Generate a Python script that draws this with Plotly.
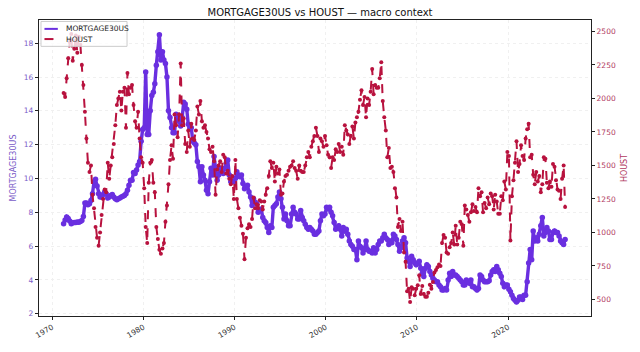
import pandas as pd
import plotly.graph_objects as go

# bimonthly observations, Apr 1971 .. Apr 2026
start_date = "1971-04-01"
end_date = "2026-04-01"

mortgage30us = [
    7.33, 7.55, 7.72, 7.63, 7.48,
    7.33, 7.38, 7.40, 7.40, 7.43, 7.42,
    7.45, 7.52, 7.75, 8.55, 8.55, 8.45,
    8.50, 8.70, 9.10, 9.80, 9.95, 9.55,
    9.10, 8.90, 8.90, 9.05, 9.20, 9.10,
    8.85, 8.90, 9.00, 9.05, 8.90, 8.80,
    8.75, 8.80, 8.85, 8.90, 8.95, 9.00,
    9.10, 9.30, 9.60, 9.90, 9.90, 10.35,
    10.30, 10.50, 10.80, 11.00, 12.20, 12.90,
    13.00, 16.30, 12.60, 12.60, 14.00, 14.90,
    15.10, 15.60, 16.70, 17.50, 18.50, 17.00,
    17.50, 17.00, 16.80, 16.00, 14.00, 13.60,
    13.00, 12.70, 12.70, 13.80, 13.40, 13.40,
    13.10, 13.60, 14.50, 14.40, 14.10, 13.20,
    13.00, 13.00, 12.20, 12.10, 12.00, 11.00,
    10.70, 9.80, 10.70, 10.20, 9.90, 9.30,
    9.10, 9.80, 10.60, 10.20, 11.30, 10.60,
    9.90, 10.20, 10.50, 10.60, 10.30, 10.60,
    10.90, 11.10, 10.20, 9.80, 9.80, 9.80,
    10.00, 10.40, 10.20, 10.10, 10.20, 9.70,
    9.40, 9.50, 9.60, 9.20, 8.90, 8.40,
    8.80, 8.60, 8.50, 8.00, 8.10, 8.20,
    7.70, 7.50, 7.40, 7.10, 6.80, 7.20,
    7.10, 8.30, 8.40, 8.50, 8.90, 9.20,
    8.80, 8.30, 7.60, 7.90, 7.50, 7.20,
    7.20, 7.90, 8.30, 8.00, 7.90, 7.60,
    7.60, 8.10, 7.70, 7.50, 7.30, 7.10,
    7.00, 7.10, 7.00, 6.90, 6.70, 6.70,
    6.80, 6.90, 7.50, 7.90, 7.80, 7.90,
    8.30, 8.20, 8.30, 8.00, 7.80, 7.40,
    7.00, 7.10, 7.20, 7.00, 6.60, 7.10,
    6.90, 7.00, 6.70, 6.30, 6.10, 6.00,
    5.80, 5.80, 5.20, 6.30, 6.00, 5.90,
    5.60, 5.80, 6.30, 5.80, 5.70, 5.70,
    5.60, 5.90, 5.60, 5.80, 6.10, 6.30,
    6.30, 6.50, 6.70, 6.50, 6.40, 6.10,
    6.30, 6.20, 6.70, 6.60, 6.40, 6.10,
    5.70, 5.90, 6.30, 6.50, 6.20, 5.30,
    5.10, 4.80, 5.40, 5.20, 5.00, 4.90,
    5.00, 5.10, 4.70, 4.40, 4.20, 4.70,
    4.90, 4.80, 4.50, 4.30, 4.10, 4.00,
    3.90, 3.90, 3.70, 3.60, 3.40, 3.40,
    3.50, 3.40, 4.00, 4.40, 4.20, 4.50,
    4.30, 4.30, 4.20, 4.10, 4.00, 3.90,
    3.70, 3.70, 4.00, 3.90, 3.80, 4.00,
    3.60, 3.60, 3.50, 3.40, 3.50, 4.30,
    4.20, 4.00, 3.90, 3.90, 3.90, 3.95,
    4.30, 4.50, 4.60, 4.50, 4.80, 4.60,
    4.40, 4.20, 3.80, 3.60, 3.70, 3.70,
    3.45, 3.30, 3.10, 2.90, 2.80, 2.70,
    2.80, 3.00, 3.00, 2.85, 3.10, 3.10,
    3.90, 5.00, 5.80, 5.20, 6.90, 6.30,
    6.50, 6.30, 6.70, 7.20, 7.70, 6.60,
    6.80, 7.10, 6.90, 6.40, 6.40, 6.80,
    6.90, 6.80, 6.80, 6.60, 6.30, 6.20,
    6.10, 6.40,
]

houst = [
    2040, 2010, 2150, 2300, 2420,
    2480, 2280, 2370, 2470, 2340, 2460,
    2400, 2250, 2100, 1900, 1700, 1520,
    1450, 1500, 1280, 1180, 1040, 960,
    900, 1000, 1130, 1250, 1320, 1300,
    1520, 1400, 1500, 1560, 1660, 1800,
    1950, 2000, 2050, 1910, 2050, 2080,
    1780, 2190, 2030, 2080, 2100, 1950,
    1830, 1780, 1900, 1700, 1560, 1520,
    1330, 1040, 920, 1370, 1520, 1540,
    1370, 1300, 1040, 950, 870, 840,
    880, 920, 1080, 1200, 1360, 1540,
    1650, 1550, 1880, 1800, 1710, 1880,
    2260, 1800, 1850, 1660, 1600, 1760,
    1640, 1810, 1700, 1690, 1760, 1940,
    1880, 1980, 1830, 1780, 1800, 1750,
    1700, 1620, 1600, 1640, 1530, 1280,
    1470, 1500, 1530, 1450, 1580, 1560,
    1440, 1460, 1400, 1360, 1420, 1250,
    1540, 1250, 1180, 1110, 1050, 990,
    800, 960, 1030, 1060, 1040, 1100,
    1260, 1180, 1210, 1180, 1240, 1230,
    1170, 1230, 1280, 1330, 1420, 1530,
    1480, 1520, 1380, 1490, 1440, 1470,
    1280, 1290, 1380, 1420, 1430, 1460,
    1490, 1500, 1530, 1480, 1460, 1400,
    1500, 1460, 1450, 1450, 1500, 1560,
    1600, 1560, 1640, 1680, 1720, 1780,
    1720, 1600, 1700, 1680, 1640, 1720,
    1650, 1580, 1560, 1480, 1560, 1540,
    1620, 1600, 1660, 1600, 1640, 1580,
    1800, 1760, 1730, 1660, 1720, 1790,
    1700, 1820, 1860, 1900, 1990, 2060,
    1950, 2010, 1860, 2000, 1950, 2050,
    2220, 2030, 2100, 2080, 2080, 2150,
    2270, 1980, 1860, 1760, 1560, 1630,
    1480, 1490, 1450, 1330, 1260, 1040,
    1100, 1010, 1080, 850, 780, 560,
    580, 480, 590, 580, 530, 580,
    605, 680, 540, 600, 540, 520,
    520, 550, 610, 580, 630, 700,
    720, 740, 760, 750, 920, 980,
    960, 850, 840, 890, 920, 1000,
    910, 1050, 910, 960, 1080, 1060,
    900, 1200, 1170, 1130, 1080, 1150,
    1210, 1160, 1190, 1150, 1330, 1270,
    1300, 1150, 1220, 1180, 1260, 1210,
    1290, 1270, 1170, 1280, 1230, 1140,
    1140, 1270, 1240, 1380, 1320, 1600,
    1570, 940, 1270, 1390, 1520, 1680,
    1450, 1510, 1650, 1570, 1540, 1700,
    1770, 1810, 1560, 1580, 1430, 1360,
    1450, 1380, 1420, 1300, 1360, 1560,
    1550, 1370, 1330, 1380, 1340, 1510,
    1490, 1390, 1320, 1310, 1250, 1400,
    1500, 1190,
]

series_names = ["MORTGAGE30US", "HOUST"]

dates = pd.date_range(start_date, end_date, freq="2MS")

mort_color = "#6a2fe0"
houst_color = "#b8123e"

fig = go.Figure()

fig.add_trace(go.Scatter(
    x=dates, y=mortgage30us, name=series_names[0], mode="lines+markers",
    line=dict(color=mort_color, width=3.4),
    marker=dict(color=mort_color, size=5.5),
    showlegend=False, yaxis="y",
))
fig.add_trace(go.Scatter(
    x=dates, y=houst, name=series_names[1], mode="lines+markers",
    line=dict(color=houst_color, width=2, dash="dash"),
    marker=dict(color=houst_color, size=4),
    showlegend=False, yaxis="y2",
))

font_family = "DejaVu Sans"

# hand-built compact legend (paper coordinates of the plot area)
shapes = [
    dict(type="rect", xref="paper", yref="paper", x0=0.0036, x1=0.1595,
         y0=0.911, y1=0.995, line=dict(color="#cccccc", width=1),
         fillcolor="rgba(255,255,255,0.8)", layer="above"),
    dict(type="line", xref="paper", yref="paper", x0=0.0099, x1=0.0341,
         y0=0.970, y1=0.970, line=dict(color=mort_color, width=2), layer="above"),
    dict(type="line", xref="paper", yref="paper", x0=0.0099, x1=0.0341,
         y0=0.9356, y1=0.9356, line=dict(color=houst_color, width=2, dash="dash"),
         layer="above"),
]
annotations = [
    dict(text=series_names[0], xref="paper", yref="paper", x=0.0457, y=0.970,
         xanchor="left", yanchor="middle", showarrow=False,
         font=dict(size=7.5, color="#222222", family=font_family)),
    dict(text=series_names[1], xref="paper", yref="paper", x=0.0457, y=0.9356,
         xanchor="left", yanchor="middle", showarrow=False,
         font=dict(size=7.5, color="#222222", family=font_family)),
]

fig.update_layout(
    width=640, height=352,
    margin=dict(l=36, r=46, t=20, b=29),
    paper_bgcolor="white", plot_bgcolor="white",
    font=dict(family=font_family, size=8, color="#333333"),
    title=dict(text="MORTGAGE30US vs HOUST — macro context", x=0.5, xanchor="center",
               y=0.965, yanchor="middle", font=dict(size=10, color="#111111")),
    showlegend=False,
    shapes=shapes,
    annotations=annotations,
    xaxis=dict(
        type="date",
        range=["1968-07-19", "2029-02-01"],
        tickvals=["1970-01-01", "1980-01-01", "1990-01-01", "2000-01-01",
                  "2010-01-01", "2020-01-01"],
        ticktext=["1970", "1980", "1990", "2000", "2010", "2020"],
        tickangle=-30, ticks="outside", ticklen=3, tickcolor="#222222",
        tickfont=dict(size=7.5, color="#333333"),
        showline=True, linecolor="#222222", linewidth=1.2, mirror=True,
        showgrid=True, gridcolor="#f0f0f0", griddash="dot", gridwidth=1,
        zeroline=False,
    ),
    yaxis=dict(
        range=[1.87, 19.37],
        tickvals=[2, 4, 6, 8, 10, 12, 14, 16, 18],
        ticks="outside", ticklen=3, tickcolor="#222222",
        tickfont=dict(size=7.5, color="#7a5cc8"),
        title=dict(text="MORTGAGE30US", font=dict(size=8, color="#7a5cc8"), standoff=6),
        showline=True, linecolor="#222222", linewidth=1.2, mirror=True,
        showgrid=True, gridcolor="#f0f0f0", griddash="dot", gridwidth=1,
        zeroline=False,
    ),
    yaxis2=dict(
        overlaying="y", side="right",
        range=[376, 2585],
        tickvals=[500, 750, 1000, 1250, 1500, 1750, 2000, 2250, 2500],
        ticks="outside", ticklen=3, tickcolor="#222222",
        tickfont=dict(size=7.5, color="#b0385e"),
        title=dict(text="HOUST", font=dict(size=8, color="#b0385e"), standoff=6),
        showline=True, linecolor="#222222", linewidth=1.2,
        showgrid=False, zeroline=False,
    ),
)

fig.write_html("out.html")
